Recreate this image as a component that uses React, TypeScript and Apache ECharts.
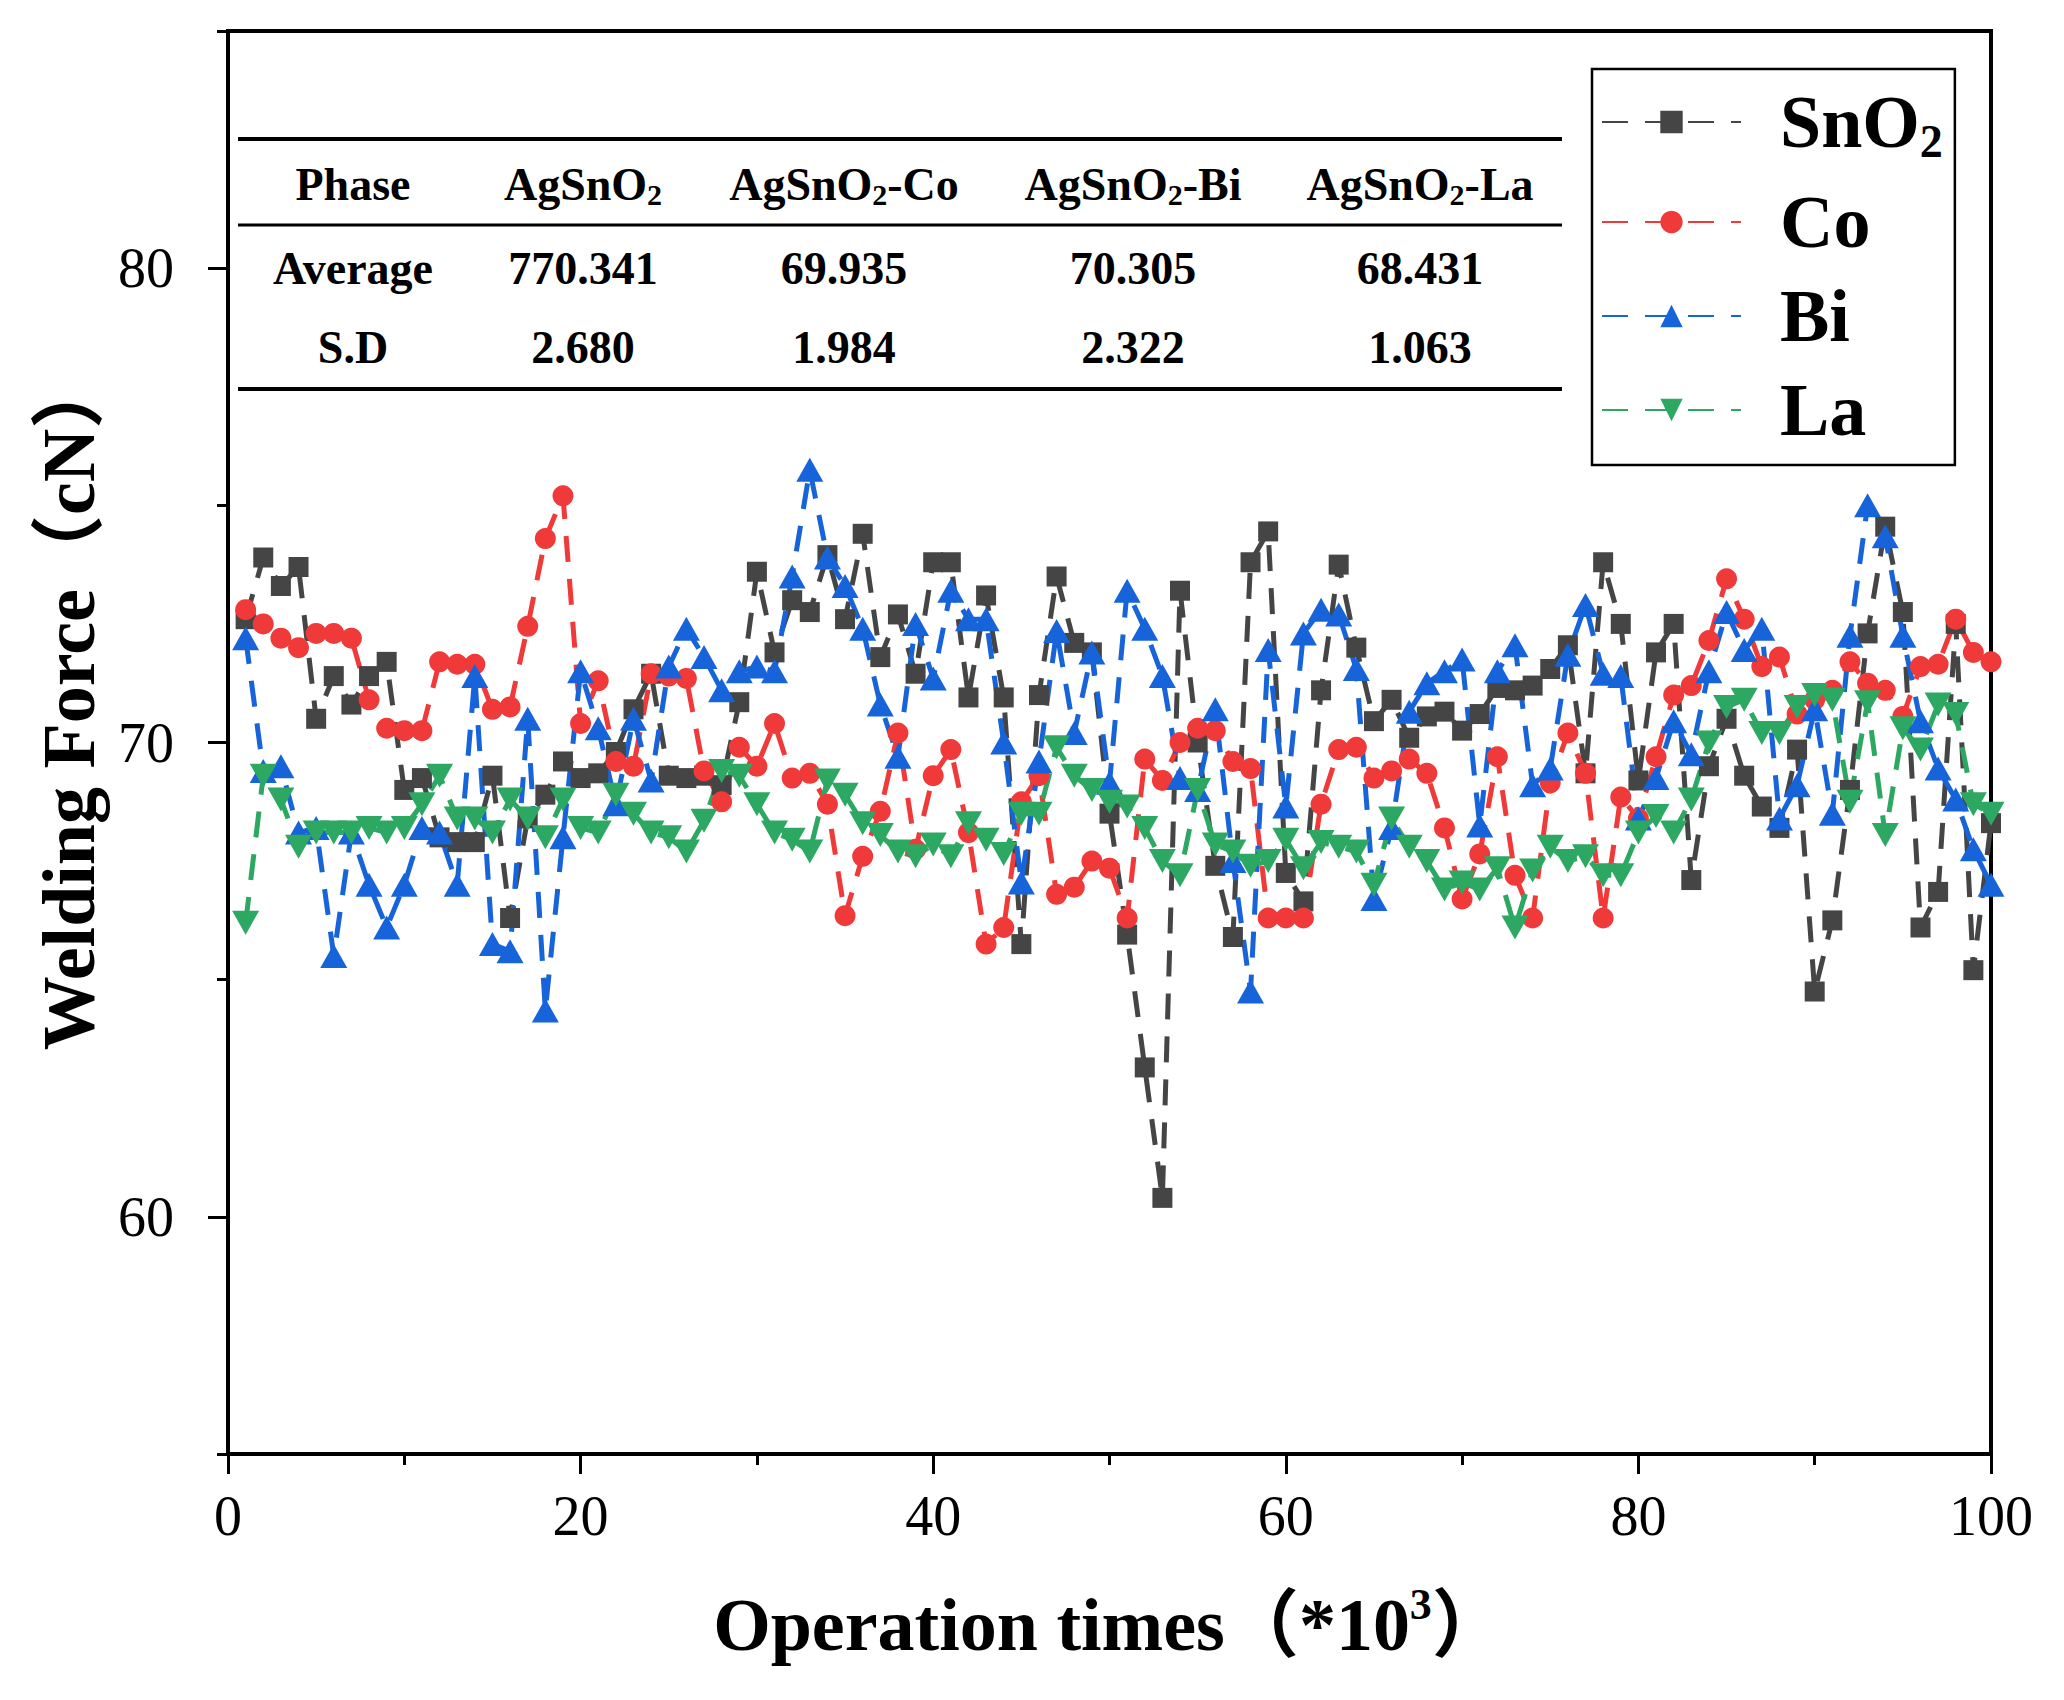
import { useEffect, useRef } from 'react';
import * as echarts from 'echarts';

// welding force (cN) per 1000 operations
const snO2 = [
  72.6, 73.9, 73.3, 73.7, 70.5, 71.4, 70.8, 71.4, 71.7, 69.0,
  69.25, 68.0, 67.9, 67.9, 69.3, 66.3, 68.4, 68.9, 69.6, 69.25,
  69.35, 69.8, 70.7, 71.45, 69.3, 69.25, 69.3, 69.1, 70.85, 73.6,
  71.9, 73.0, 72.75, 73.95, 72.6, 74.4, 71.8, 72.7, 71.45, 73.8,
  73.8, 70.95, 73.1, 70.95, 65.75, 71.0, 73.5, 72.1, 71.9, 68.5,
  65.95, 63.15, 60.4, 73.2, 70.0, 67.4, 65.9, 73.8, 74.45, 67.25,
  66.65, 71.1, 73.75, 72.0, 70.45, 70.9, 70.1, 70.55, 70.65, 70.25,
  70.6, 71.15, 71.1, 71.2, 71.55, 72.05, 69.35, 73.8, 72.5, 69.2,
  71.9, 72.5, 67.1, 69.5, 70.5, 69.3, 68.65, 68.2, 69.85, 64.75,
  66.25, 69.0, 72.3, 74.55, 72.75, 66.1, 66.85, 72.5, 65.2, 68.3,
];
const co = [
  72.8, 72.5, 72.2, 72.0, 72.3, 72.3, 72.2, 70.9, 70.3, 70.25,
  70.25, 71.7, 71.65, 71.65, 70.7, 70.75, 72.45, 74.3, 75.2, 70.4,
  71.3, 69.6, 69.5, 71.45, 71.4, 71.35, 69.4, 68.75, 69.9, 69.5,
  70.4, 69.25, 69.35, 68.7, 66.35, 67.6, 68.55, 70.2, 67.75, 69.3,
  69.85, 68.1, 65.75, 66.1, 68.75, 69.3, 66.8, 66.95, 67.5, 67.35,
  66.3, 69.65, 69.2, 70.0, 70.3, 70.25, 69.6, 69.45, 66.3, 66.3,
  66.3, 68.7, 69.85, 69.9, 69.25, 69.4, 69.65, 69.35, 68.2, 66.7,
  67.65, 69.7, 67.2, 66.3, 69.15, 70.2, 69.35, 66.3, 68.85, 68.4,
  69.7, 71.0, 71.2, 72.15, 73.45, 72.6, 71.6, 71.8, 70.6, 70.9,
  71.1, 71.7, 71.25, 71.1, 70.55, 71.6, 71.65, 72.6, 71.9, 71.7,
];
const bi = [
  72.2, 69.4, 69.5, 68.1, 68.2, 65.5, 68.1, 67.0, 66.1, 67.0,
  68.2, 68.1, 67.0, 71.4, 65.75, 65.6, 70.5, 64.35, 68.0, 71.5,
  70.3, 68.7, 70.5, 69.2, 71.6, 72.4, 71.8, 71.1, 71.5, 71.6,
  71.5, 73.5, 75.75, 73.9, 73.3, 72.4, 70.8, 69.7, 72.5, 71.35,
  73.2, 72.6, 72.6, 70.0, 67.05, 69.6, 72.35, 70.2, 71.9, 69.15,
  73.2, 72.4, 71.4, 69.25, 69.0, 70.7, 67.5, 64.75, 71.95, 68.65,
  72.3, 72.8, 72.7, 71.55, 66.7, 68.2, 70.65, 71.25, 71.5, 71.75,
  68.25, 71.5, 72.05, 69.1, 69.45, 71.85, 72.9, 71.45, 71.4, 68.4,
  69.25, 70.45, 69.75, 71.5, 72.75, 71.95, 72.4, 68.4, 69.1, 70.7,
  68.5, 72.25, 75.0, 74.35, 72.25, 70.45, 69.45, 68.8, 67.75, 67.0,
];
const la = [
  66.2, 69.3, 68.8, 67.8, 68.1, 68.1, 68.1, 68.2, 68.1, 68.2,
  68.7, 69.3, 68.4, 68.4, 68.1, 68.8, 68.4, 68.0, 68.8, 68.2,
  68.1, 68.9, 68.5, 68.1, 68.0, 67.7, 68.35, 69.4, 69.3, 68.7,
  68.1, 67.95, 67.7, 69.2, 68.9, 68.3, 68.05, 67.7, 67.6, 67.85,
  67.6, 68.3, 67.95, 67.65, 68.5, 68.5, 69.9, 69.3, 69.0, 68.75,
  68.65, 68.2, 67.5, 67.2, 69.0, 67.85, 67.7, 67.4, 67.5, 67.95,
  67.35, 67.9, 67.8, 67.7, 67.0, 68.4, 67.8, 67.5, 66.9, 67.05,
  66.9, 67.35, 66.1, 67.3, 67.8, 67.5, 67.6, 67.2, 67.2, 68.1,
  68.45, 68.1, 68.8, 70.0, 70.75, 70.9, 70.2, 70.2, 70.75, 71.0,
  70.9, 68.75, 70.85, 68.05, 70.3, 69.85, 70.8, 70.6, 68.7, 68.5,
];

const seriesNames = ['SnO2', 'Co', 'Bi', 'La'];

// inset table
const tableHeader = ['Phase', 'AgSnO{s|2}', 'AgSnO{s|2}-Co', 'AgSnO{s|2}-Bi', 'AgSnO{s|2}-La'];
const tableAverage = ['Average', '770.341', '69.935', '70.305', '68.431'];
const tableSD = ['S.D', '2.680', '1.984', '2.322', '1.063'];

const yMajor = [60, 70, 80];
const yMinor = [55, 65, 75, 85];

const FONT = "'Times New Roman', 'Liberation Serif', 'Noto Sans CJK SC', serif";

const App = () => {
  const chartRef = useRef<HTMLDivElement>(null);

  useEffect(() => {
    if (!chartRef.current) return;
    document.body.style.margin = '0';
    const chart = echarts.init(chartRef.current, null, { renderer: 'svg' });

    const mk = (name: string, data: number[], color: string, symbol: string, size: any, rotate = 0) => ({
      name,
      type: 'line',
      data: data.map((v, i) => [i + 1, v]),
      symbol,
      symbolSize: size,
      symbolRotate: rotate,
      lineStyle: { color, width: 5, type: [26, 17] },
      itemStyle: { color },
    });

    // table texts and rules
    const colX = [353, 583, 844, 1133, 1420];
    const rowY = [184, 268, 347];
    const tRich = { s: { fontSize: 30, fontWeight: 'bold', fontFamily: FONT, verticalAlign: 'bottom', lineHeight: 50, fill: '#000' } };
    const tableTexts: any[] = [];
    [tableHeader, tableAverage, tableSD].forEach((row, r) => {
      row.forEach((txt, c) => {
        tableTexts.push({
          type: 'text',
          x: colX[c],
          y: rowY[r],
          style: {
            text: txt,
            align: 'center',
            verticalAlign: 'middle',
            fontSize: 46,
            fontWeight: 'bold',
            fontFamily: FONT,
            fill: '#000',
            lineHeight: 50,
            rich: tRich,
          },
        });
      });
    });
    const rules = [
      { y: 139, w: 4 },
      { y: 225, w: 3 },
      { y: 389, w: 4 },
    ].map((l) => ({
      type: 'line',
      shape: { x1: 238, y1: l.y, x2: 1562, y2: l.y },
      style: { stroke: '#000', lineWidth: l.w },
    }));

    const labelStyle = { fontSize: 56, color: '#000', fontFamily: FONT };
    const titleRich = {
      t: { fontSize: 74, fontWeight: 'bold', fontFamily: FONT, color: '#000', lineHeight: 86 },
      sup: { fontSize: 44, fontWeight: 'bold', fontFamily: FONT, color: '#000', verticalAlign: 'top', lineHeight: 86 },
    };

    chart.setOption({
      animation: false,
      backgroundColor: '#fff',
      grid: { left: 228, right: 73, top: 31, bottom: 246, show: true, borderColor: '#000', borderWidth: 4 },
      legend: {
        orient: 'vertical',
        left: 1592,
        top: 69,
        data: seriesNames,
        borderColor: '#000',
        borderWidth: 2.5,
        padding: [16, 12, 18, 9],
        itemGap: 20,
        itemWidth: 139,
        itemHeight: 28,
        formatter: (name: string) => (name === 'SnO2' ? '{g|}{t|SnO}{sub|2}' : `{g|}{t|${name}}`),
        textStyle: {
          rich: {
            g: { width: 34 },
            t: { fontSize: 74, fontWeight: 'bold', fontFamily: FONT, color: '#000', lineHeight: 78 },
            sub: { fontSize: 46, fontWeight: 'bold', fontFamily: FONT, color: '#000', verticalAlign: 'bottom', lineHeight: 86 },
          },
        },
      },
      xAxis: {
        type: 'value',
        min: 0,
        max: 100,
        interval: 20,
        axisLine: { lineStyle: { color: '#000', width: 4 } },
        axisTick: { length: 20, lineStyle: { color: '#000', width: 3 } },
        minorTick: { show: true, splitNumber: 2, length: 11, lineStyle: { color: '#000', width: 3 } },
        splitLine: { show: false },
        axisLabel: { ...labelStyle, margin: 34 },
        name: '{t|Operation times（*10}{sup|3}{t|）}',
        nameLocation: 'middle',
        nameGap: 128,
        nameTextStyle: { rich: titleRich },
      },
      yAxis: [
        {
          type: 'value',
          min: 55,
          max: 85,
          interval: 5,
          axisLine: { lineStyle: { color: '#000', width: 4 } },
          axisTick: { customValues: yMajor, length: 20, lineStyle: { color: '#000', width: 3 } },
          axisLabel: { ...labelStyle, customValues: yMajor, margin: 54 },
          splitLine: { show: false },
          name: '{t|Welding Force（cN）}',
          nameLocation: 'middle',
          nameGap: 116,
          nameTextStyle: { rich: titleRich, padding: [0, 0, 0, 80] },
        },
        {
          type: 'value',
          min: 55,
          max: 85,
          interval: 5,
          position: 'left',
          axisLine: { show: false },
          axisTick: { customValues: yMinor, length: 11, lineStyle: { color: '#000', width: 3 } },
          axisLabel: { show: false },
          splitLine: { show: false },
        },
      ],
      series: [
        mk('SnO2', snO2, '#454545', 'rect', 20),
        mk('Co', co, '#F03A3A', 'circle', 21),
        mk('Bi', bi, '#1663DA', 'triangle', [27, 24]),
        mk('La', la, '#2DA862', 'triangle', [27, 24], 180),
      ],
      graphic: [...rules, ...tableTexts],
    });

    return () => {
      chart.dispose();
    };
  }, []);

  return <div ref={chartRef} style={{ width: 2064, height: 1700 }} />;
};

export default App;
